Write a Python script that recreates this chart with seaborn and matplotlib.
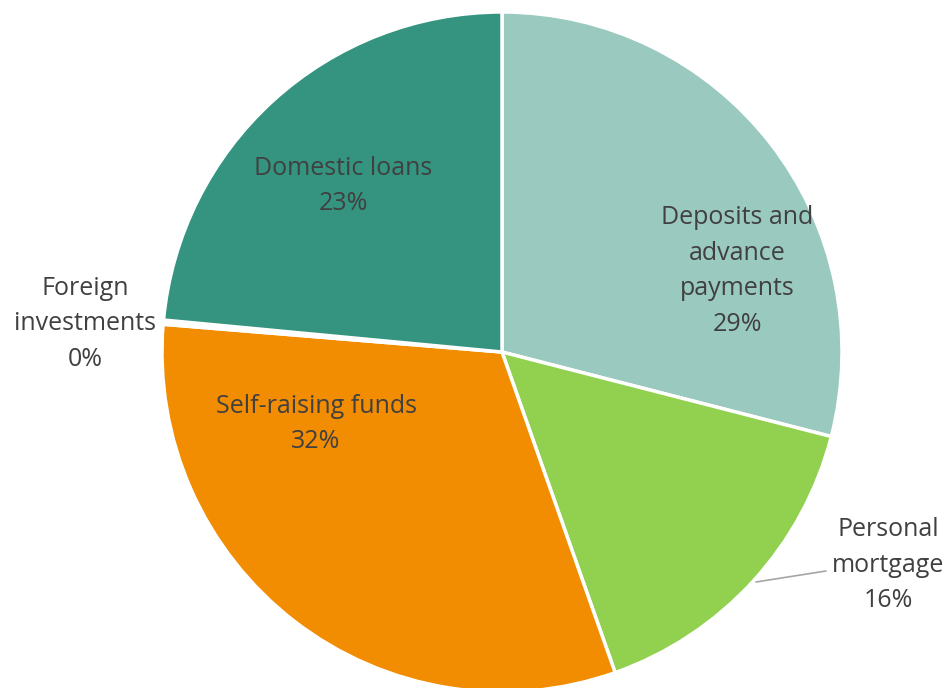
import matplotlib.pyplot as plt
import seaborn as sns

sns.set_theme(style="white")
plt.rcParams["font.family"] = ["Open Sans", "DejaVu Sans"]

# slices, clockwise from 12 o'clock
categories = [
    "Deposits and\nadvance\npayments",
    "Personal\nmortgage",
    "Self-raising funds",
    "Foreign\ninvestments",
    "Domestic loans",
]
shares = [29.0, 15.6, 31.7, 0.2, 23.5]
pct_labels = ["29%", "16%", "32%", "0%", "23%"]
colors = ["#9ac9bf", "#92d050", "#f28c00", "#ffffff", "#359480"]

# label anchor points (pixels from top-left)
label_xy = [(737, 271), (888, 565), (316, 424), (85, 324), (343, 186)]

fig = plt.figure(figsize=(9.52, 6.88), dpi=100)
ax = fig.add_axes([0, 0, 1, 1])

# y axis is flipped, so counterclock=True draws clockwise on screen
ax.pie(
    shares,
    colors=colors,
    startangle=-90,
    counterclock=True,
    center=(502, 352),
    radius=340,
    wedgeprops={"edgecolor": "white", "linewidth": 2.5},
    frame=True,
)
ax.set_xlim(0, 952)
ax.set_ylim(688, 0)
ax.set_aspect("equal")
ax.axis("off")

for name, pct, (x, y) in zip(categories, pct_labels, label_xy):
    ax.text(x, y, f"{name}\n{pct}", ha="center", va="center",
            fontsize=18, color="#404040", linespacing=1.55)

# leader line for the mortgage label
ax.plot([756, 826], [582, 571], color="#a6a6a6", linewidth=1.2)

fig.savefig("out.png", dpi=100)
